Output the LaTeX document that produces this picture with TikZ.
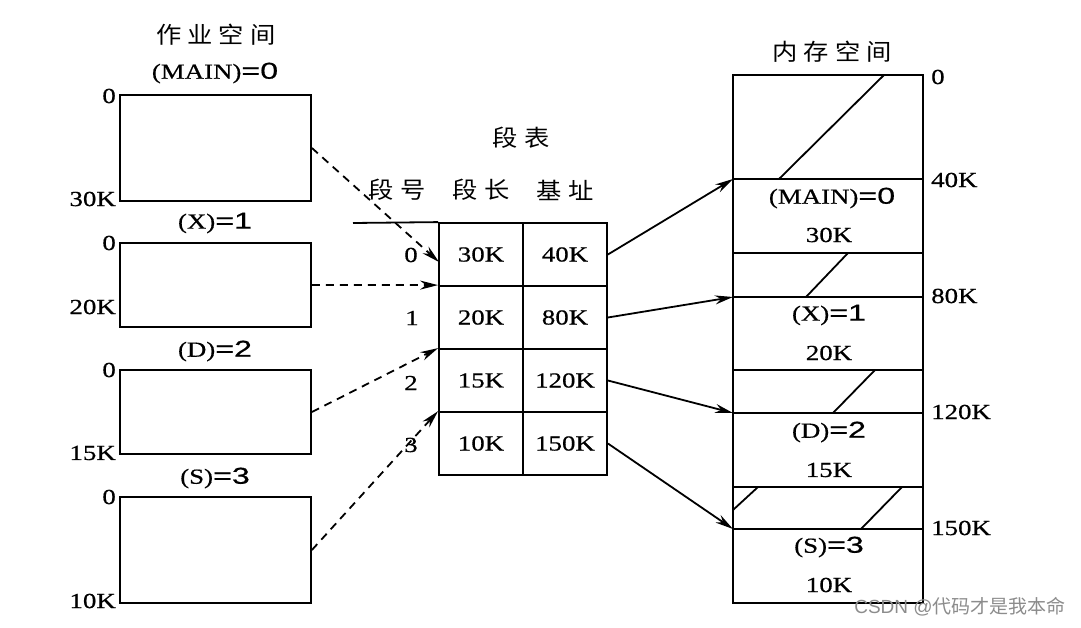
\documentclass[tikz,border=0pt]{standalone}
\usepackage{fontspec}
\setmainfont{Liberation Serif}[FakeStretch=1.25,FakeBold=0.6]
\setsansfont{Liberation Sans}[FakeStretch=1.4,FakeBold=0.6]
\newfontfamily\cjk{Noto Sans CJK SC}[FakeStretch=1.1]
\newfontfamily\wmsans{Liberation Sans}
\newfontfamily\wmcjk{Noto Sans CJK SC}
\usetikzlibrary{arrows.meta}
\newcommand\eqn[1]{{\sffamily\fontsize{23}{24}\selectfont =#1}}
\begin{document}
\begin{tikzpicture}[x=1pt,y=-1pt,
  lbl/.style={inner sep=0pt, font=\fontsize{21.5}{24}\selectfont},
  cn/.style={inner sep=0pt, font=\cjk\fontsize{23}{24}\selectfont},
  jbox/.style={draw, line width=1.8pt, minimum width=191pt, inner sep=0pt},
  cell/.style={draw, line width=1.8pt, minimum width=84pt, minimum height=63pt, inner sep=0pt, font=\fontsize{21.5}{24}\selectfont},
  dasharrow/.style={line width=1.8pt, dash pattern=on 8pt off 6pt, -{Stealth[length=18pt,width=9pt]}},
  solidarrow/.style={line width=1.8pt, -{Stealth[length=18pt,width=9pt]}},
  thin/.style={line width=1.8pt}]
\fill[white] (0,0) rectangle (1081,628);
\useasboundingbox (0,0) rectangle (1081,628);

% ---------- job space ----------
\node[cn] (jt) at (216,35) {作\hspace{6pt}业\hspace{6pt}空\hspace{6pt}间};
\node[lbl] (jl0) at (215,73) {(MAIN)\eqn{0}};
\node[jbox, minimum height=106pt] (j0) at (215.5,148) {};
\node[lbl, anchor=east] (j0a) at (116,96) {0};
\node[lbl, anchor=east] (j0b) at (116,199) {30K};

\node[lbl] (jl1) at (215,223) {(X)\eqn{1}};
\node[jbox, minimum height=84pt] (j1) at (215.5,285) {};
\node[lbl, anchor=east] (j1a) at (116,243) {0};
\node[lbl, anchor=east] (j1b) at (116,307) {20K};

\node[lbl] (jl2) at (215,351) {(D)\eqn{2}};
\node[jbox, minimum height=84pt] (j2) at (215.5,412) {};
\node[lbl, anchor=east] (j2a) at (116,370) {0};
\node[lbl, anchor=east] (j2b) at (116,453) {15K};

\node[lbl] (jl3) at (215,478) {(S)\eqn{3}};
\node[jbox, minimum height=106pt] (j3) at (215.5,550) {};
\node[lbl, anchor=east] (j3a) at (116,497) {0};
\node[lbl, anchor=east] (j3b) at (116,601) {10K};

% ---------- segment table ----------
\node[cn] (tt) at (521,138) {段\hspace{6pt}表};
\node[cn] (h0) at (397,190) {段\hspace{6pt}号};
\node[cn] (h1) at (481,190) {段\hspace{6pt}长};
\node[cn] (h2) at (565,190) {基\hspace{6pt}址};

\node[cell] (c0a) at (481,254.5) {30K};
\node[cell] (c0b) at (565,254.5) {40K};
\node[cell] (c1a) at (481,317.5) {20K};
\node[cell] (c1b) at (565,317.5) {80K};
\node[cell] (c2a) at (481,380.5) {15K};
\node[cell] (c2b) at (565,380.5) {120K};
\node[cell] (c3a) at (481,443.5) {10K};
\node[cell] (c3b) at (565,443.5) {150K};
\coordinate (tl) at (353,223);
\draw[thin] (tl) -- (c0a.north west);

\node[lbl] (n0) at (411,255) {0};
\node[lbl] (n1) at (412,318) {1};
\node[lbl] (n2) at (411,383) {2};
\node[lbl] (n3) at (411,445) {3};

% ---------- memory ----------
\node[cn] (mt) at (832,52) {内\hspace{6pt}存\hspace{6pt}空\hspace{6pt}间};
\node[draw, line width=1.8pt, minimum width=190pt, minimum height=528pt, inner sep=0pt] (mem) at (828,339) {};
\coordinate (m40) at (733,179);   \coordinate (m40r) at (923,179);
\coordinate (m70) at (733,253);   \coordinate (m70r) at (923,253);
\coordinate (m80) at (733,297);   \coordinate (m80r) at (923,297);
\coordinate (m100) at (733,370);  \coordinate (m100r) at (923,370);
\coordinate (m120) at (733,413);  \coordinate (m120r) at (923,413);
\coordinate (m135) at (733,487);  \coordinate (m135r) at (923,487);
\coordinate (m150) at (733,529);  \coordinate (m150r) at (923,529);
\foreach \a/\b in {m40/m40r,m70/m70r,m80/m80r,m100/m100r,m120/m120r,m135/m135r,m150/m150r}
  \draw[thin] (\a) -- (\b);

% hatch lines of free areas
\draw[thin] (779,179) -- (884,75);
\draw[thin] (806,297) -- (848,253);
\draw[thin] (833,413) -- (875,370);
\draw[thin] (733,510) -- (758,487);
\draw[thin] (861,529) -- (902,487);

\node[lbl] (ml0) at (832,198) {(MAIN)\eqn{0}};
\node[lbl] (ms0) at (829,235) {30K};
\node[lbl] (ml1) at (829,315) {(X)\eqn{1}};
\node[lbl] (ms1) at (829,353) {20K};
\node[lbl] (ml2) at (829,432) {(D)\eqn{2}};
\node[lbl] (ms2) at (829,470) {15K};
\node[lbl] (ml3) at (829,547) {(S)\eqn{3}};
\node[lbl] (ms3) at (829,585) {10K};

\node[lbl, anchor=west] (a0) at (931,77) {0};
\node[lbl, anchor=west] (a40) at (931,180) {40K};
\node[lbl, anchor=west] (a80) at (931,296) {80K};
\node[lbl, anchor=west] (a120) at (931,412) {120K};
\node[lbl, anchor=west] (a150) at (931,528) {150K};

% ---------- connectors ----------
\coordinate (t0) at (439,262);
\draw[dasharrow] (j0.east) -- (t0);
\draw[dasharrow] (j1.east) -- (c1a.north west);
\draw[dasharrow] (j2.east) -- (c2a.north west);
\draw[dasharrow] (j3.east) -- (c3a.north west);

\draw[solidarrow] (c0b.east) -- (m40);
\draw[solidarrow] (c1b.east) -- (m80);
\draw[solidarrow] (c2b.east) -- (m120);
\draw[solidarrow] (c3b.east) -- (m150);

% watermark
\node[inner sep=0pt, text=black!45, font=\fontsize{19}{22}\selectfont] (wm) at (960,607) {{\wmsans CSDN @}{\wmcjk 代码才是我本命}};
\end{tikzpicture}
\end{document}
